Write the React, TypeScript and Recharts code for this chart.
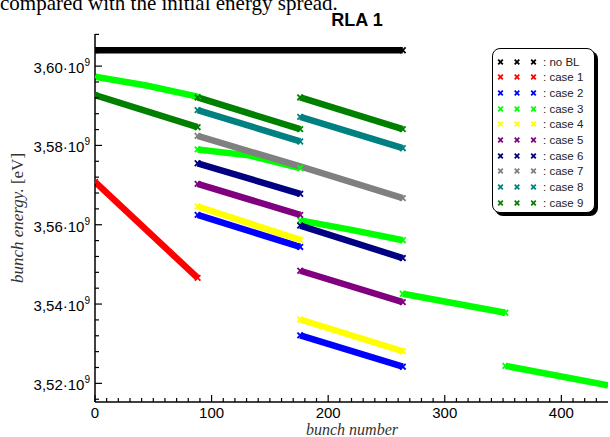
import { LineChart, Line, XAxis, YAxis, Legend } from 'recharts';

type Pt = [number, number];

// [bunch number, bunch energy in 10^9 eV], one list per segment (88 bunches per pass)
const noBL: Pt[][] = [[[0, 3.604], [264, 3.604]]];
const case1: Pt[][] = [[[0, 3.5708], [88, 3.5466]]];
const case2: Pt[][] = [
  [[88, 3.5625], [176, 3.5544]],
  [[176, 3.5321], [264, 3.5242]],
];
const case3: Pt[][] = [
  [[0, 3.5973], [44, 3.5951], [88, 3.5923]],
  [[88, 3.579], [132, 3.5775], [176, 3.5743]],
  [[176, 3.5611], [220, 3.5587], [264, 3.5561]],
  [[264, 3.5426], [352, 3.5378]],
  [[352, 3.5244], [440, 3.5195]],
];
const case4: Pt[][] = [
  [[88, 3.5646], [176, 3.5562]],
  [[176, 3.5361], [264, 3.5281]],
];
const case5: Pt[][] = [
  [[88, 3.5703], [176, 3.5625]],
  [[176, 3.5484], [264, 3.5405]],
];
const case6: Pt[][] = [
  [[88, 3.5755], [176, 3.5678]],
  [[176, 3.5598], [264, 3.5516]],
];
const case7: Pt[][] = [[[88, 3.5824], [176, 3.5747], [264, 3.5667]]];
const case8: Pt[][] = [
  [[88, 3.5889], [176, 3.581]],
  [[176, 3.5872], [264, 3.5793]],
];
const case9: Pt[][] = [
  [[0, 3.5927], [88, 3.5846]],
  [[88, 3.5921], [176, 3.5841]],
  [[176, 3.5921], [264, 3.5841]],
];

const seriesNames = ['no BL', 'case 1', 'case 2', 'case 3', 'case 4', 'case 5', 'case 6', 'case 7', 'case 8', 'case 9'];
const seriesColors = ['#000000', '#ff0000', '#0000ff', '#00ff00', '#ffff00', '#800080', '#000080', '#808080', '#008080', '#008000'];
const seriesSegments = [noBL, case1, case2, case3, case4, case5, case6, case7, case8, case9];

const xMajorTicks = [0, 100, 200, 300, 400];
const yMajorTicks = [3.52, 3.54, 3.56, 3.58, 3.6];
const xTicks = Array.from({ length: 44 }, (_, i) => i * 10);
const yTicks = Array.from({ length: 24 }, (_, i) => Math.round((3.516 + i * 0.004) * 1000) / 1000);

const SANS = '"Liberation Sans", Arial, sans-serif';
const SERIF = '"Liberation Serif", "Times New Roman", serif';

const isMajor = (list: number[], v: number) => list.some((m) => Math.abs(m - v) < 1e-6);

const BottomTick = ({ x, y, payload }: any) => {
  const major = isMajor(xMajorTicks, payload.value);
  return (
    <g>
      <line x1={x} x2={x} y1={y} y2={y - (major ? 7 : 4)} stroke="#000" strokeWidth={1.2} />
      {major && (
        <text x={x} y={y + 16} textAnchor="middle" fontSize={15} fontFamily={SANS} fill="#000">
          {payload.value}
        </text>
      )}
    </g>
  );
};

const TopTick = ({ x, y, payload }: any) => {
  const major = isMajor(xMajorTicks, payload.value);
  return <line x1={x} x2={x} y1={y} y2={y + (major ? 7 : 4)} stroke="#000" strokeWidth={1.2} />;
};

const LeftTick = ({ x, y, payload }: any) => {
  const major = isMajor(yMajorTicks, payload.value);
  return (
    <g>
      <line x1={x} x2={x + (major ? 7 : 4)} y1={y} y2={y} stroke="#000" strokeWidth={1.2} />
      {major && (
        <text x={x - 5} y={y + 7} textAnchor="end" fontSize={15} fontFamily={SANS} fill="#000">
          {payload.value.toFixed(2).replace('.', ',')}·10
          <tspan dy={-7} fontSize={10}>9</tspan>
        </text>
      )}
    </g>
  );
};

const RightTick = ({ x, y, payload }: any) => {
  const major = isMajor(yMajorTicks, payload.value);
  return <line x1={x} x2={x - (major ? 7 : 4)} y1={y} y2={y} stroke="#000" strokeWidth={1.2} />;
};

const cross = (cx: number, cy: number, s: number) =>
  `M${cx - s},${cy - s}L${cx + s},${cy + s}M${cx - s},${cy + s}L${cx + s},${cy - s}`;

const LegendBox = () => (
  <div
    style={{
      width: 103,
      height: 165,
      boxSizing: 'border-box',
      border: '1.5px solid #000',
      borderRadius: 8,
      boxShadow: '3px 3px 0 #000',
      background: '#fff',
      paddingTop: 5,
    }}
  >
    {seriesNames.map((name, i) => (
      <div key={name} style={{ height: 15.67, display: 'flex', alignItems: 'center' }}>
        <svg width={50} height={10} style={{ display: 'block' }}>
          {[7.5, 24, 40.5].map((cx) => (
            <path key={cx} d={cross(cx, 5, 2.3)} stroke={seriesColors[i]} strokeWidth={1.8} fill="none" />
          ))}
        </svg>
        <span style={{ fontSize: 11.5, fontFamily: SANS, color: '#222', whiteSpace: 'nowrap' }}>: {name}</span>
      </div>
    ))}
  </div>
);

const lines = seriesSegments.flatMap((segs, si) =>
  segs.map((seg, k) => ({
    id: `s${si}-${k}`,
    color: seriesColors[si],
    data: seg.map(([x, y]) => ({ x, y })),
  }))
);

export default function App() {
  return (
    <div style={{ position: 'absolute', left: 0, top: 0, width: 610, height: 437, background: '#fff' }}>
      <LineChart width={610} height={437} margin={{ top: 34, right: 2, bottom: 0, left: 0 }}>
        <XAxis
          xAxisId="b"
          dataKey="x"
          type="number"
          domain={[0, 440]}
          allowDataOverflow
          ticks={xTicks}
          interval={0}
          tickSize={0}
          tickMargin={0}
          tickLine={false}
          height={35}
          axisLine={{ stroke: '#000', strokeWidth: 1.5 }}
          tick={(p: any) => <BottomTick {...p} />}
        />
        <XAxis
          xAxisId="t"
          orientation="top"
          dataKey="x"
          type="number"
          domain={[0, 440]}
          allowDataOverflow
          ticks={xTicks}
          interval={0}
          tickSize={0}
          tickMargin={0}
          tickLine={false}
          height={0}
          axisLine={{ stroke: '#000', strokeWidth: 1.5 }}
          tick={(p: any) => <TopTick {...p} />}
        />
        <YAxis
          yAxisId="l"
          type="number"
          domain={[3.5153, 3.6081]}
          allowDataOverflow
          ticks={yTicks}
          interval={0}
          tickSize={0}
          tickMargin={0}
          tickLine={false}
          width={95}
          axisLine={{ stroke: '#000', strokeWidth: 1.5 }}
          tick={(p: any) => <LeftTick {...p} />}
        />
        <YAxis
          yAxisId="r"
          orientation="right"
          type="number"
          domain={[3.5153, 3.6081]}
          allowDataOverflow
          ticks={yTicks}
          interval={0}
          tickSize={0}
          tickMargin={0}
          tickLine={false}
          width={0}
          axisLine={{ stroke: '#000', strokeWidth: 1.5 }}
          tick={(p: any) => <RightTick {...p} />}
        />
        {lines.map((ln) => (
          <Line
            key={ln.id}
            xAxisId="b"
            yAxisId="l"
            data={ln.data}
            dataKey="y"
            stroke={ln.color}
            strokeWidth={6.5}
            legendType="none"
            activeDot={false}
            isAnimationActive={false}
            dot={(p: any) => {
              const { cx, cy, index } = p;
              if (cx == null || (index !== 0 && index !== ln.data.length - 1)) return <g key={`d${index}`} />;
              return (
                <path key={`d${index}`} d={cross(cx, cy, 2.8)} stroke={ln.color} strokeWidth={1.8} fill="none" />
              );
            }}
          />
        ))}
        <Legend
          layout="horizontal"
          verticalAlign="middle"
          align="center"
          wrapperStyle={{ left: 492, top: 48, width: 106, height: 168 }}
          content={() => <LegendBox />}
        />
      </LineChart>
      <svg
        width={610}
        height={437}
        style={{ position: 'absolute', left: 0, top: 0, pointerEvents: 'none' }}
      >
        <text x={0} y={10} fontSize={21} fontFamily={SERIF} fill="#000">
          compared with the initial energy spread.
        </text>
        <text x={357} y={26} textAnchor="middle" fontSize={18} fontWeight="bold" fontFamily={SANS} fill="#000">
          RLA 1
        </text>
        <text
          transform="translate(23,218) rotate(-90)"
          textAnchor="middle"
          fontSize={17}
          fontStyle="italic"
          fontFamily={SERIF}
          fill="#333"
        >
          bunch energy. <tspan fontStyle="normal">[eV]</tspan>
        </text>
        <text x={352} y={435} textAnchor="middle" fontSize={16} fontStyle="italic" fontFamily={SERIF} fill="#333">
          bunch number
        </text>
      </svg>
    </div>
  );
}
